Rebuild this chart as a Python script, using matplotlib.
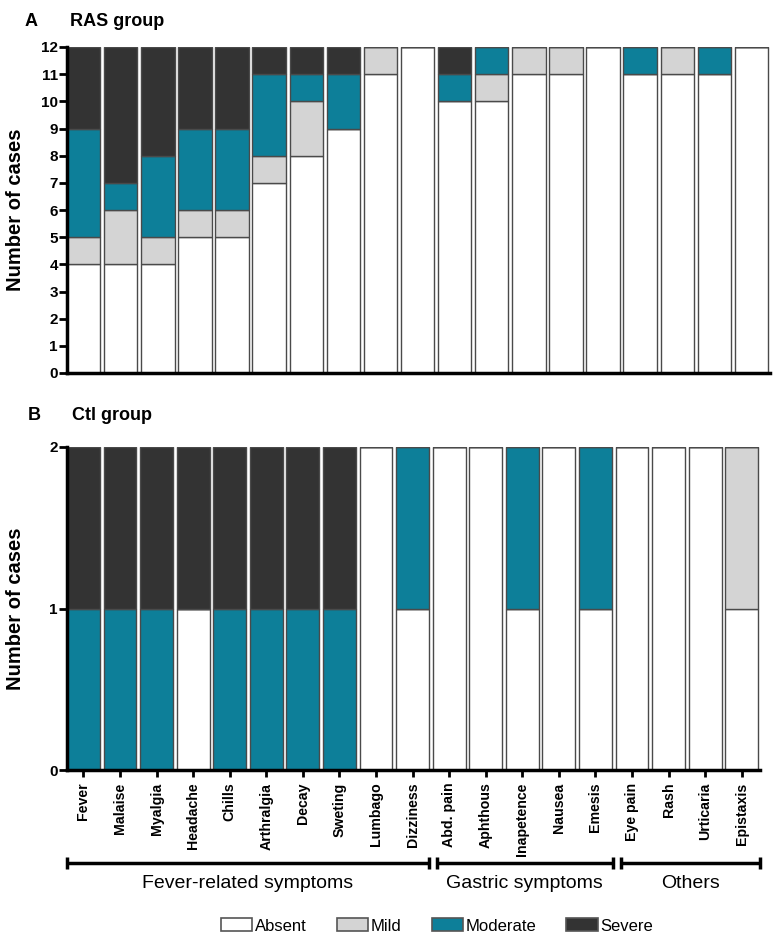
import matplotlib
matplotlib.use("Agg")
import matplotlib.pyplot as plt
from matplotlib.patches import Patch
import numpy as np

plt.rcParams['font.family'] = ['Liberation Sans', 'DejaVu Sans']

categories = ["Fever", "Malaise", "Myalgia", "Headache", "Chills", "Arthralgia", "Decay",
              "Sweting", "Lumbago", "Dizziness", "Abd. pain", "Aphthous", "Inapetence",
              "Nausea", "Emesis", "Eye pain", "Rash", "Urticaria", "Epistaxis"]

# RAS group (n = 12)
ras_absent   = [4, 4, 4, 5, 5, 7, 8, 9, 11, 12, 10, 10, 11, 11, 12, 11, 11, 11, 12]
ras_mild     = [1, 2, 1, 1, 1, 1, 2, 0, 1, 0, 0, 1, 1, 1, 0, 0, 1, 0, 0]
ras_moderate = [4, 1, 3, 3, 3, 3, 1, 2, 0, 0, 1, 1, 0, 0, 0, 1, 0, 1, 0]
ras_severe   = [3, 5, 4, 3, 3, 1, 1, 1, 0, 0, 1, 0, 0, 0, 0, 0, 0, 0, 0]

# Ctl group (n = 2)
ctl_absent   = [0, 0, 0, 1, 0, 0, 0, 0, 2, 1, 2, 2, 1, 2, 1, 2, 2, 2, 1]
ctl_mild     = [0, 0, 0, 0, 0, 0, 0, 0, 0, 0, 0, 0, 0, 0, 0, 0, 0, 0, 1]
ctl_moderate = [1, 1, 1, 0, 1, 1, 1, 1, 0, 1, 0, 0, 1, 0, 1, 0, 0, 0, 0]
ctl_severe   = [1, 1, 1, 1, 1, 1, 1, 1, 0, 0, 0, 0, 0, 0, 0, 0, 0, 0, 0]

severity_labels = ["Absent", "Mild", "Moderate", "Severe"]
severity_colors = ["#ffffff", "#d4d4d4", "#0d7f99", "#333333"]

groups = ["Fever-related symptoms", "Gastric symptoms", "Others"]
group_ranges = [(-0.45, 9.45), (9.66, 14.47), (14.71, 18.5)]

W, H = 773, 940
fig = plt.figure(figsize=(W / 100, H / 100), dpi=100)

def fx(px):
    return px / W

def fy(py):
    return 1 - py / H

ax1 = fig.add_axes([fx(67), fy(373), fx(770) - fx(67), fy(47) - fy(373)])
ax2 = fig.add_axes([fx(67), fy(770), fx(760) - fx(67), fy(447) - fy(770)])

x = np.arange(len(categories))

def draw(ax, series, ymax):
    bottom = np.zeros(len(categories))
    for vals, col in zip(series, severity_colors):
        vals = np.array(vals, dtype=float)
        ax.bar(x, vals, bottom=bottom, width=0.9, color=col, edgecolor="#4a4a4a",
               linewidth=1.0, zorder=2)
        bottom += vals
    ax.set_xlim(-0.45, 18.5)
    ax.set_ylim(0, ymax)
    ax.set_yticks(range(0, ymax + 1))
    for s in ["top", "right"]:
        ax.spines[s].set_visible(False)
    for s in ["left", "bottom"]:
        ax.spines[s].set_linewidth(2.5)
        ax.spines[s].set_zorder(5)
    ax.tick_params(axis="y", direction="out", length=6, width=2, labelsize=11, pad=0.5)
    for lab in ax.get_yticklabels():
        lab.set_fontweight("bold")
    ax.set_ylabel("Number of cases", fontsize=14.5, fontweight="bold")

draw(ax1, [ras_absent, ras_mild, ras_moderate, ras_severe], 12)
draw(ax2, [ctl_absent, ctl_mild, ctl_moderate, ctl_severe], 2)

ax1.set_xticks([])
ax2.set_xticks(x)
ax2.set_xticklabels(categories, rotation=90, fontsize=10.2, fontweight="bold")
ax2.tick_params(axis="x", direction="out", length=5, width=2, pad=4)

ax1.yaxis.set_label_coords((25 - 67) / 703, 0.5)
ax2.yaxis.set_label_coords((25 - 67) / 693, 0.5)

fig.text(fx(25), fy(21), "A", fontsize=13, fontweight="bold", va="center", ha="left")
fig.text(fx(70), fy(21), "RAS group", fontsize=13, fontweight="bold", va="center", ha="left")
fig.text(fx(28), fy(416), "B", fontsize=13, fontweight="bold", va="center", ha="left")
fig.text(fx(72), fy(416), "Ctl group", fontsize=13, fontweight="bold", va="center", ha="left")

# Group brackets
trans = ax2.get_xaxis_transform()
span = 770 - 447
yb = -(863 - 770) / span
cap = 6 / span
ylab = -(884 - 770) / span
for name, (a, b) in zip(groups, group_ranges):
    ax2.plot([a, b], [yb, yb], color="black", lw=2.5, transform=trans, clip_on=False,
             solid_capstyle="butt")
    for e in (a, b):
        ax2.plot([e, e], [yb - cap, yb + cap], color="black", lw=2.5, transform=trans,
                 clip_on=False, solid_capstyle="butt")
    ax2.text((a + b) / 2, ylab, name, transform=trans, ha="center", va="center",
             fontsize=14)

handles = [Patch(facecolor=c, edgecolor="#555555", linewidth=1.2, label=l)
           for c, l in zip(severity_colors, severity_labels)]
fig.legend(handles=handles, loc="center", bbox_to_anchor=(fx(437), fy(926)), ncol=4,
           frameon=False, fontsize=12, handlelength=1.9, handleheight=0.8,
           handletextpad=0.15, columnspacing=1.8)

fig.savefig("out.png", dpi=100)
